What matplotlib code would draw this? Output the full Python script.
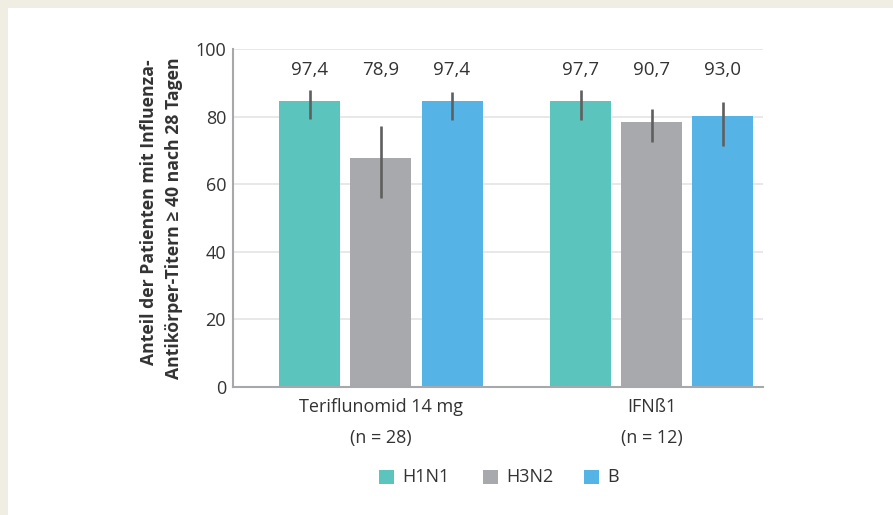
import matplotlib
matplotlib.use("Agg")
import matplotlib.pyplot as plt
from matplotlib.patches import Rectangle
import numpy as np

plt.rcParams['font.family'] = ['Open Sans', 'DejaVu Sans']

# ---- data ----
groups = ["Teriflunomid 14 mg", "IFNß1"]
group_n = ["(n = 28)", "(n = 12)"]
series = ["H1N1", "H3N2", "B"]

h1n1 = [84.7, 84.7]
h3n2 = [67.8, 78.5]
b_vals = [84.7, 80.2]

h1n1_lo = [79.3, 79.1]
h1n1_hi = [88.0, 88.0]
h3n2_lo = [55.8, 72.6]
h3n2_hi = [77.4, 82.2]
b_lo = [78.9, 71.3]
b_hi = [87.3, 84.3]

h1n1_label = [97.4, 97.7]
h3n2_label = [78.9, 90.7]
b_label = [97.4, 93.0]

yticks = [0, 20, 40, 60, 80, 100]

colors = ["#5bc4bd", "#a8a9ad", "#55b3e5"]
text_color = "#333333"

values = [h1n1, h3n2, b_vals]
lows = [h1n1_lo, h3n2_lo, b_lo]
highs = [h1n1_hi, h3n2_hi, b_hi]
labels = [h1n1_label, h3n2_label, b_label]

W, H = 893, 515
fig = plt.figure(figsize=(W / 100, H / 100), dpi=100)
fig.patch.set_facecolor("white")

# beige frame strips on the left and top
frame = "#f0eee2"
fig.patches.append(Rectangle((0, 0), 8 / W, 1, transform=fig.transFigure,
                             facecolor=frame, edgecolor="none", zorder=0))
fig.patches.append(Rectangle((0, 1 - 8 / H), 1, 8 / H, transform=fig.transFigure,
                             facecolor=frame, edgecolor="none", zorder=0))

ax_l, ax_r, ax_t, ax_b = 233, 763, 49.3, 386.7
ax = fig.add_axes([ax_l / W, 1 - ax_b / H, (ax_r - ax_l) / W, (ax_b - ax_t) / H])

x = np.arange(len(groups))
offset = 0.2625
width = 0.2255

for i, name in enumerate(series):
    xs = x + (i - 1) * offset
    ax.bar(xs, values[i], width=width, color=colors[i], zorder=2, label=name)
    ax.vlines(xs, lows[i], highs[i], color="#5f5f5f", linewidth=1.9, zorder=3)
    for xi, lab in zip(xs, labels[i]):
        ax.text(xi, 92.4, f"{lab:.1f}".replace(".", ","), ha="center", va="baseline",
                fontsize=13.5, color=text_color)

ax.set_ylim(0, 100)
ax.set_xlim(-0.547, 1.412)
ax.set_yticks(yticks)
ax.set_yticklabels([str(t) for t in yticks], fontsize=13, color=text_color)
ax.tick_params(axis="y", length=0, pad=5)
ax.set_xticks([])
ax.yaxis.grid(True, color="#e8e8e8", linewidth=1.4, zorder=0)
ax.set_axisbelow(True)
for s in ["top", "right"]:
    ax.spines[s].set_visible(False)
for s in ["left", "bottom"]:
    ax.spines[s].set_color("#a7a8ab")
    ax.spines[s].set_linewidth(1.5)
ax.spines["bottom"].set_zorder(4)

# group labels below the axis
for xi, g, n in zip(x, groups, group_n):
    ax.text(xi, -(407 - ax_b) / (ax_b - ax_t) * 100, g, ha="center", va="center",
            fontsize=13, color=text_color)
    ax.text(xi, -(438 - ax_b) / (ax_b - ax_t) * 100, n, ha="center", va="center",
            fontsize=13, color=text_color)

# y-axis title in two lines
fig.text(149 / W, 1 - 212 / H, "Anteil der Patienten mit Influenza-", rotation=90,
         ha="center", va="center", fontsize=12.7, fontweight="bold", color=text_color)
fig.text(174 / W, 1 - 218 / H, "Antikörper-Titern ≥ 40 nach 28 Tagen", rotation=90,
         ha="center", va="center", fontsize=12.7, fontweight="bold", color=text_color)

# legend
sq_x = [379, 483, 584]
sq = 14.5
leg_y = 477
for i, name in enumerate(series):
    fig.patches.append(Rectangle((sq_x[i] / W, 1 - (leg_y + sq / 2) / H), sq / W, sq / H,
                                 transform=fig.transFigure, facecolor=colors[i],
                                 edgecolor="none"))
    fig.text((sq_x[i] + sq + 9) / W, 1 - leg_y / H, name, ha="left", va="center",
             fontsize=13, color=text_color)

fig.savefig("out.png", dpi=100, facecolor=fig.get_facecolor())
